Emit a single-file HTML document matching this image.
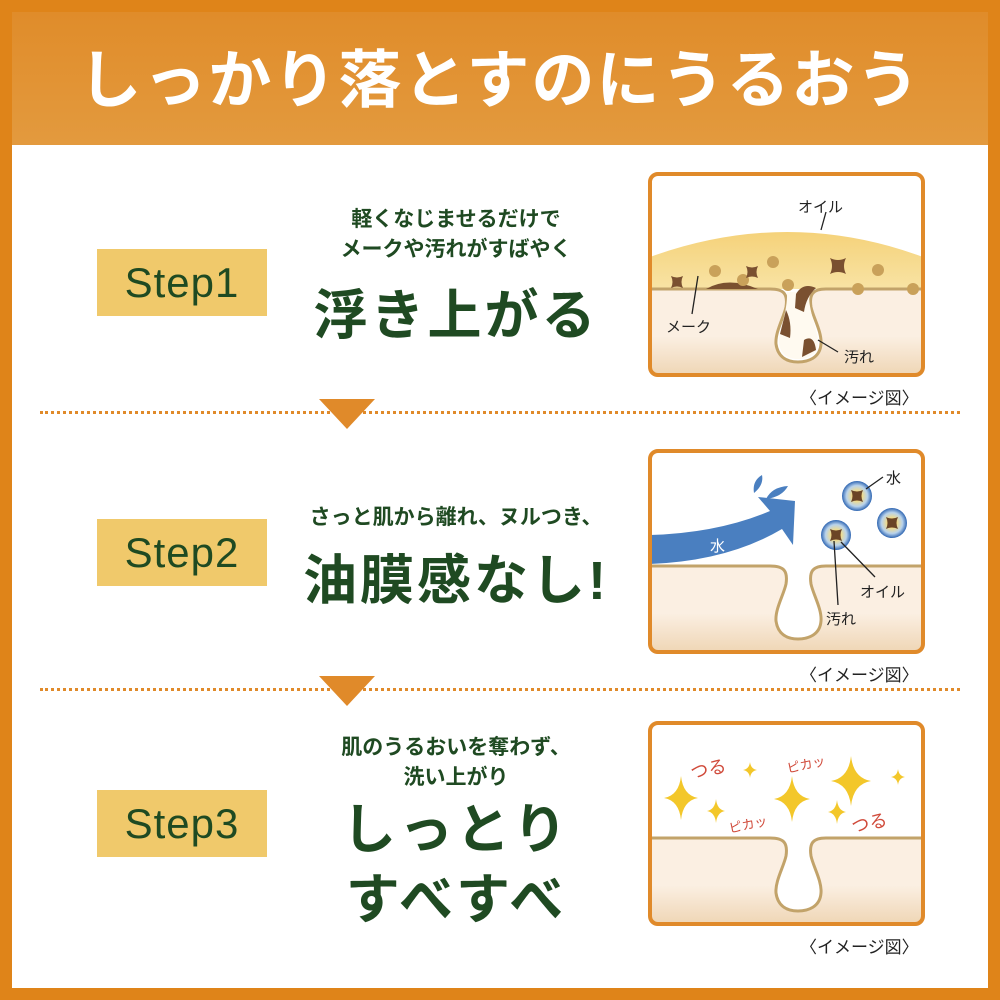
<!DOCTYPE html>
<html><head><meta charset="utf-8"><style>
body{margin:0;width:1000px;height:1000px;overflow:hidden;font-family:"Liberation Sans","Noto Sans CJK JP",sans-serif;}
.frame{position:absolute;left:0;top:0;width:1000px;height:1000px;background:#df8419;}
.head{position:absolute;left:12px;top:12px;width:976px;height:133px;background:linear-gradient(#e08c2a,#e39a3e);}
.title{position:absolute;left:0;width:976px;top:27px;text-align:center;color:#fff;font-weight:bold;font-size:63px;letter-spacing:2px;line-height:84px;}
.body{position:absolute;left:12px;top:145px;width:976px;height:843px;background:#fff;}
.step{position:absolute;left:97px;width:170px;height:67px;background:#f0c96b;color:#1f4a22;font-size:42px;text-align:center;line-height:67px;letter-spacing:1px;}
.t{position:absolute;color:#1f4a22;font-weight:bold;text-align:center;width:400px;left:256px;}
.s{font-size:21px;line-height:30px;}
.b{font-size:54px;line-height:70px;letter-spacing:3px;}
.dot{position:absolute;left:40px;width:920px;border-top:3px dotted #e08a2a;}
.tri{position:absolute;left:319px;width:0;height:0;border-left:28px solid transparent;border-right:28px solid transparent;border-top:30px solid #e08a2a;}
.panel{position:absolute;left:648px;width:277px;height:205px;}
.cap{position:absolute;left:800px;font-size:17px;color:#222;}
svg text{font-family:"Liberation Sans","Noto Sans CJK JP",sans-serif;}
</style></head><body>
<div class="frame"></div>
<div class="head"><div class="title">しっかり落とすのにうるおう</div></div>
<div class="body"></div>

<div class="step" style="top:249px">Step1</div>
<div class="step" style="top:519px">Step2</div>
<div class="step" style="top:790px">Step3</div>

<div class="t s" style="top:205px">軽くなじませるだけで<br>メークや汚れがすばやく</div>
<div class="t b" style="top:281px">浮き上がる</div>
<div class="t s" style="top:503px">さっと肌から離れ、ヌルつき、</div>
<div class="t b" style="top:546px">油膜感なし!</div>
<div class="t s" style="top:733px">肌のうるおいを奪わず、<br>洗い上がり</div>
<div class="t b" style="top:795px">しっとり</div>
<div class="t b" style="top:865px">すべすべ</div>

<div class="dot" style="top:411px"></div>
<div class="dot" style="top:688px"></div>
<div class="tri" style="top:399px"></div>
<div class="tri" style="top:676px"></div>

<svg width="0" height="0" style="position:absolute">
<defs><linearGradient id="sk" x1="0" y1="0" x2="0" y2="1"><stop offset="0.55" stop-color="#fbefe2"/><stop offset="1" stop-color="#efd6b5"/></linearGradient>
<linearGradient id="oil" x1="0" y1="0" x2="0" y2="1"><stop offset="0" stop-color="#f5d27a"/><stop offset="1" stop-color="#f8e3a4"/></linearGradient>
<radialGradient id="dr"><stop offset="0.3" stop-color="#f7dc80"/><stop offset="0.7" stop-color="#b9d3ec"/><stop offset="1" stop-color="#2f66b2"/></radialGradient>
<path id="st" d="M0,-1 Q0.12,-0.12 1,0 Q0.12,0.12 0,1 Q-0.12,0.12 -1,0 Q-0.12,-0.12 0,-1Z"/>
<path id="x" d="M-1,-1 Q0,-0.5 1,-1 Q0.5,0 1,1 Q0,0.5 -1,1 Q-0.5,0 -1,-1Z"/>
<path id="skin" d="M2,117 H122 C136,117 140,122 138,135 C136,145 127,160 128,172 C130,186 140,190 150,190 C160,190 172,186 173,172 C174,160 165,145 163,135 C161,122 165,117 178,117 H275 V195 Q275,203 267,203 H10 Q2,203 2,195Z"/>
</defs></svg>

<svg class="panel" style="top:172px" viewBox="0 0 277 205">
<rect x="2" y="2" width="273" height="201" rx="8" fill="#fff"/>
<path d="M2,85 Q140,35 275,85 V117 H2Z" fill="url(#oil)"/>
<use href="#skin" fill="url(#sk)" stroke="#c2a36a" stroke-width="3"/>
<path d="M139,120 C140,140 130,160 131,172 C133,184 142,187 150,187 C158,187 169,184 170,172 C171,160 160,140 161,120Z" fill="#fffaf0"/>
<path d="M58,117 Q80,104 110,117Z" fill="#7a5030"/>
<path d="M148,122 Q155,110 168,116 Q158,125 156,140 L147,136Z M138,138 Q144,150 142,166 L132,162Z M156,168 Q166,162 168,178 L154,185Z" fill="#7a5030"/>
<g fill="#c9a15a"><circle cx="67" cy="99" r="6"/><circle cx="125" cy="90" r="6"/><circle cx="140" cy="113" r="6"/><circle cx="230" cy="98" r="6"/><circle cx="210" cy="117" r="6"/><circle cx="265" cy="117" r="6"/><circle cx="95" cy="108" r="6"/></g>
<g fill="#7a5030"><use href="#x" transform="translate(29,110) scale(6)"/><use href="#x" transform="translate(104,100) scale(6)"/><use href="#x" transform="translate(190,94) scale(8)"/></g>
<g stroke="#222" stroke-width="1.3"><line x1="178" y1="40" x2="173" y2="58"/><line x1="50" y1="104" x2="44" y2="142"/><line x1="170" y1="168" x2="190" y2="180"/></g>
<g font-size="15" fill="#222"><text x="150" y="40">オイル</text><text x="18" y="160">メーク</text><text x="196" y="190">汚れ</text></g>
<rect x="2" y="2" width="273" height="201" rx="8" fill="none" stroke="#e08a2a" stroke-width="4"/>
</svg>

<svg class="panel" style="top:449px" viewBox="0 0 277 205">
<rect x="2" y="2" width="273" height="201" rx="8" fill="#fff"/>
<use href="#skin" fill="url(#sk)" stroke="#c2a36a" stroke-width="3"/>
<path d="M2,86 Q70,84 122,62 L110,48 L147,52 L145,96 L134,80 Q80,112 2,115Z" fill="#4a7fc0"/>
<path d="M106,44 Q104,32 114,26 Q116,36 106,44Z M118,50 Q124,38 140,37 Q134,48 118,50Z" fill="#4a7fc0"/>
<text x="62" y="102" font-size="15" fill="#fff">水</text>
<g><circle cx="209" cy="47" r="15" fill="url(#dr)"/><circle cx="244" cy="74" r="15" fill="url(#dr)"/><circle cx="188" cy="86" r="15" fill="url(#dr)"/></g>
<g fill="#6b4526"><use href="#x" transform="translate(209,47) scale(6)"/><use href="#x" transform="translate(244,74) scale(6)"/><use href="#x" transform="translate(188,86) scale(6)"/></g>
<g stroke="#222" stroke-width="1.3"><line x1="218" y1="40" x2="235" y2="28"/><line x1="193" y1="93" x2="227" y2="128"/><line x1="186" y1="92" x2="190" y2="156"/></g>
<g font-size="15" fill="#222"><text x="238" y="34">水</text><text x="212" y="148">オイル</text><text x="178" y="175">汚れ</text></g>
<rect x="2" y="2" width="273" height="201" rx="8" fill="none" stroke="#e08a2a" stroke-width="4"/>
</svg>

<svg class="panel" style="top:721px" viewBox="0 0 277 205">
<rect x="2" y="2" width="273" height="201" rx="8" fill="#fff"/>
<use href="#skin" fill="url(#sk)" stroke="#c2a36a" stroke-width="3"/>
<g fill="#f3c72a"><use href="#st" transform="translate(33,77) scale(17,22)"/><use href="#st" transform="translate(68,90) scale(9,12)"/><use href="#st" transform="translate(102,49) scale(7,8)"/><use href="#st" transform="translate(144,78) scale(18,23)"/><use href="#st" transform="translate(203,60) scale(20,25)"/><use href="#st" transform="translate(250,56) scale(7,8)"/><use href="#st" transform="translate(189,91) scale(9,12)"/></g>
<g fill="#d04a3a" font-size="18"><text x="44" y="58" transform="rotate(-12 44 58)">つる</text><text x="140" y="52" font-size="13" transform="rotate(-12 140 52)">ピカッ</text><text x="82" y="112" font-size="13" transform="rotate(-12 82 112)">ピカッ</text><text x="205" y="112" transform="rotate(-12 205 112)">つる</text></g>
<rect x="2" y="2" width="273" height="201" rx="8" fill="none" stroke="#e08a2a" stroke-width="4"/>
</svg>

<div class="cap" style="top:384px">〈イメージ図〉</div>
<div class="cap" style="top:661px">〈イメージ図〉</div>
<div class="cap" style="top:933px">〈イメージ図〉</div>
</body></html>
